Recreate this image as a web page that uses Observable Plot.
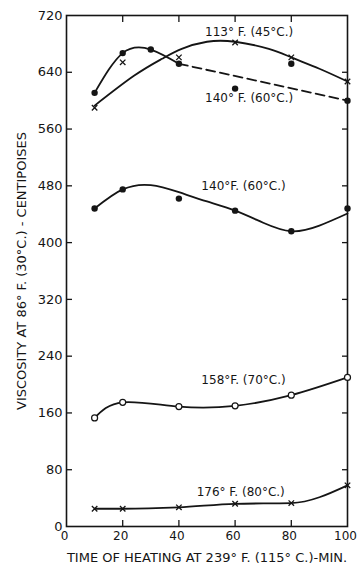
<!DOCTYPE html>
<html><head><meta charset="utf-8">
<script src="https://cdn.jsdelivr.net/npm/d3@7"></script>
<script src="https://cdn.jsdelivr.net/npm/@observablehq/plot@0.6"></script>
<style>body{margin:0;background:#fff}</style>
</head><body><div id="chart"></div>
<script>
// Time of heating (min) at which samples were taken
const times = [10, 20, 40, 60, 80, 100];
// 113 °F (45 °C) – crosses, solid fitted curve
const v113 = [590, 654, 661, 682, 661, 627];
const fit113Time = [10, 24, 34, 41, 50, 60, 72, 80, 90, 100];
const fit113 = [593, 635, 659, 673, 683, 683, 673, 661, 645, 627];
// 140 °F (60 °C) upper – filled dots, solid then dashed
const time140a = [10, 20, 30, 40, 60, 80, 100];
const v140a = [611, 667, 672, 652, 617, 652, 600];
const solid140aTime = [10, 20, 30, 40];
const dashed140aTime = [40, 100];
// 140 °F (60 °C) lower – filled dots, solid fitted curve
const v140b = [448, 475, 462, 445, 416, 448];
const fit140bTime = [10, 20, 30, 40, 50, 60, 70, 80, 90, 100];
const fit140b = [448, 475, 481, 471, 458, 445, 428, 416, 424, 441];
// 158 °F (70 °C) – open circles
const v158 = [153, 175, 169, 170, 185, 210];
// 176 °F (80 °C) – crosses
const v176 = [25, 25, 27, 32, 33, 58];
// curve labels
const labelText = ["113° F. (45°C.)", "140° F. (60°C.)", "140°F. (60°C.)", "158°F. (70°C.)", "176° F. (80°C.)"];
const labelTime = [65, 65, 63, 63, 62];
const labelVisc = [696, 603, 480, 206, 48];
// ticks
const xTicks = [0, 20, 40, 60, 80, 100];
const yTicks = [0, 80, 160, 240, 320, 400, 480, 560, 640, 720];
const xInner = [20, 40, 60, 80];
const yInner = [80, 160, 240, 320, 400, 480, 560, 640];
const xTitle = "TIME OF HEATING AT 239° F. (115° C.)-MIN.";
const yTitle = "VISCOSITY AT 86° F. (30°C.) - CENTIPOISES";

const zip = (xs, ys) => xs.map((x, i) => ({x, y: ys[i]}));
const p113 = zip(times, v113);
const f113 = zip(fit113Time, fit113);
const p140a = zip(time140a, v140a);
const s140a = p140a.filter(d => solid140aTime.includes(d.x));
const d140a = p140a.filter(d => dashed140aTime.includes(d.x));
const p140b = zip(times, v140b);
const f140b = zip(fit140bTime, fit140b);
const p158 = zip(times, v158);
const p176 = zip(times, v176);
const lbl = labelText.map((t, i) => ({t, x: labelTime[i], y: labelVisc[i]}));

const ink = "#151515";
const blank = () => "";

const chart = Plot.plot({
  width: 358,
  height: 565,
  marginLeft: 66,
  marginRight: 11,
  marginTop: 15,
  marginBottom: 39,
  style: {fontFamily: "DejaVu Sans, sans-serif", fontSize: "13px", color: ink, background: "#fff"},
  x: {domain: [0, 100]},
  y: {domain: [0, 720]},
  marks: [
    Plot.frame({stroke: ink, strokeWidth: 1.6}),
    // tick labels
    Plot.axisX({anchor: "bottom", ticks: xTicks, tickSize: 0, tickPadding: 5, fontSize: 12, dx: -2, label: null}),
    // x title
    Plot.axisX({anchor: "bottom", ticks: xTicks, tickSize: 0, tickFormat: blank, fontSize: 13,
      label: xTitle, labelAnchor: "center", labelArrow: "none", labelOffset: 35}),
    Plot.axisY({anchor: "left", ticks: yTicks, tickSize: 0, tickPadding: 4, fontSize: 13,
      label: yTitle, labelAnchor: "center", labelArrow: "none", labelOffset: 50}),
    // inward ticks on all four sides
    Plot.axisX({anchor: "bottom", ticks: xInner, tickSize: 6, dy: -6, tickFormat: blank, label: null, stroke: ink, strokeWidth: 1.3}),
    Plot.axisX({anchor: "top", ticks: xInner, tickSize: 6, dy: 6, tickFormat: blank, label: null, stroke: ink, strokeWidth: 1.3}),
    Plot.axisY({anchor: "left", ticks: yInner, tickSize: 6, dx: 6, tickFormat: blank, label: null, stroke: ink, strokeWidth: 1.3}),
    Plot.axisY({anchor: "right", ticks: yInner, tickSize: 6, dx: -6, tickFormat: blank, label: null, stroke: ink, strokeWidth: 1.3}),
    // curves
    Plot.line(f113, {x: "x", y: "y", curve: "natural", stroke: ink, strokeWidth: 1.8}),
    Plot.line(s140a, {x: "x", y: "y", curve: "natural", stroke: ink, strokeWidth: 1.8}),
    Plot.line(d140a, {x: "x", y: "y", stroke: ink, strokeWidth: 1.8, strokeDasharray: "9,5"}),
    Plot.line(f140b, {x: "x", y: "y", curve: "natural", stroke: ink, strokeWidth: 1.8}),
    Plot.line(p158, {x: "x", y: "y", curve: "natural", stroke: ink, strokeWidth: 1.8}),
    Plot.line(p176, {x: "x", y: "y", curve: "monotone-x", stroke: ink, strokeWidth: 1.8}),
    // markers
    Plot.dot(p113, {x: "x", y: "y", symbol: "times", r: 2.6, stroke: ink, strokeWidth: 1.3}),
    Plot.dot(p140a, {x: "x", y: "y", r: 3.2, fill: ink}),
    Plot.dot(p140b, {x: "x", y: "y", r: 3.2, fill: ink}),
    Plot.dot(p158, {x: "x", y: "y", r: 3, fill: "#fff", stroke: ink, strokeWidth: 1.2}),
    Plot.dot(p176, {x: "x", y: "y", symbol: "times", r: 2.6, stroke: ink, strokeWidth: 1.3}),
    // labels
    Plot.text(lbl, {x: "x", y: "y", text: "t", fontSize: 12, fill: ink, textAnchor: "middle"})
  ]
});
document.getElementById("chart").append(chart);
</script>
</body></html>
